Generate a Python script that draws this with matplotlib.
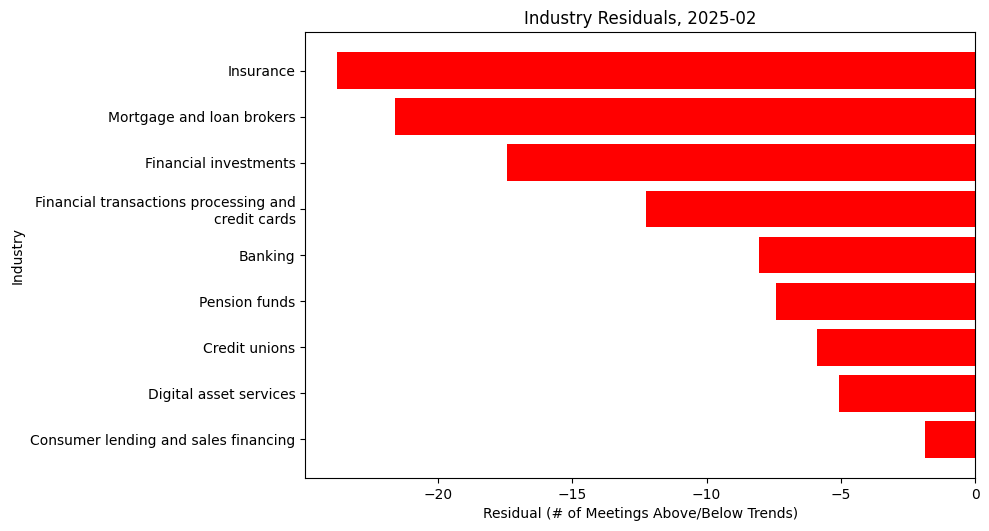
import matplotlib
matplotlib.use("Agg")
import matplotlib.pyplot as plt

# industries, top to bottom as shown
industries = [
    "Insurance",
    "Mortgage and loan brokers",
    "Financial investments",
    "Financial transactions processing and\ncredit cards",
    "Banking",
    "Pension funds",
    "Credit unions",
    "Digital asset services",
    "Consumer lending and sales financing",
]
residuals = [-23.75, -21.6, -17.43, -12.26, -8.05, -7.42, -5.89, -5.07, -1.87]

fig, ax = plt.subplots(figsize=(9.89, 5.31), dpi=100)
fig.subplots_adjust(left=0.3087, right=0.9861, top=0.9397, bottom=0.0998)

# plot bottom-up so the first industry ends on top
ax.barh(industries[::-1], residuals[::-1], color="red")

ax.set_title("Industry Residuals, 2025-02")
ax.set_xlabel("Residual (# of Meetings Above/Below Trends)")
ax.set_ylabel("Industry")

fig.savefig("out.png", dpi=100)
